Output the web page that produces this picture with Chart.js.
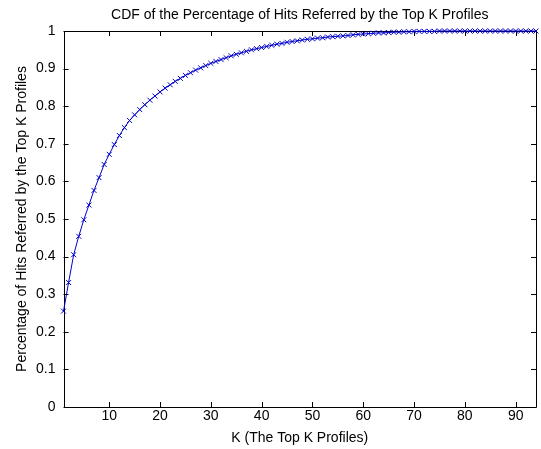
<!DOCTYPE html>
<html>
<head>
<meta charset="utf-8">
<script src="https://cdn.jsdelivr.net/npm/chart.js@4/dist/chart.umd.min.js"></script>
<style>
  html, body { margin: 0; padding: 0; background: #ffffff; }
  #wrap { width: 541px; height: 449px; }
</style>
</head>
<body>
<div id="wrap"><canvas id="c" width="541" height="449"></canvas></div>
<script>
// K = number of top profiles considered
const topK = [
  1, 2, 3, 4, 5, 6, 7, 8, 9, 10,
  11, 12, 13, 14, 15, 16, 17, 18, 19, 20,
  21, 22, 23, 24, 25, 26, 27, 28, 29, 30,
  31, 32, 33, 34, 35, 36, 37, 38, 39, 40,
  41, 42, 43, 44, 45, 46, 47, 48, 49, 50,
  51, 52, 53, 54, 55, 56, 57, 58, 59, 60,
  61, 62, 63, 64, 65, 66, 67, 68, 69, 70,
  71, 72, 73, 74, 75, 76, 77, 78, 79, 80,
  81, 82, 83, 84, 85, 86, 87, 88, 89, 90,
  91, 92, 93, 94
];

// Cumulative share of hits referred by the top K profiles
const hitShare = [
  0.255, 0.331, 0.405, 0.454, 0.498, 0.537, 0.576, 0.610, 0.645, 0.672,
  0.698, 0.722, 0.743, 0.762, 0.777, 0.791, 0.804, 0.816, 0.827, 0.838,
  0.848, 0.857, 0.866, 0.874, 0.882, 0.889, 0.896, 0.902, 0.908, 0.914,
  0.919, 0.924, 0.929, 0.934, 0.938, 0.942, 0.946, 0.950, 0.953, 0.956,
  0.959, 0.962, 0.965, 0.967, 0.970, 0.972, 0.974, 0.976, 0.978, 0.979,
  0.981, 0.982, 0.984, 0.985, 0.986, 0.987, 0.988, 0.990, 0.991, 0.992,
  0.993, 0.994, 0.995, 0.995, 0.996, 0.997, 0.997, 0.998, 0.998, 0.999,
  0.999, 0.999, 0.999, 0.999, 1.000, 1.000, 1.000, 1.000, 1.000, 1.000,
  1.000, 1.000, 1.000, 1.000, 1.000, 1.000, 1.000, 1.000, 1.000, 1.000,
  1.000, 1.000, 1.000, 1.000
];

const xTickValues = [10, 20, 30, 40, 50, 60, 70, 80, 90];
const yTickValues = [0, 0.1, 0.2, 0.3, 0.4, 0.5, 0.6, 0.7, 0.8, 0.9, 1];

const chartTitle = 'CDF of the Percentage of Hits Referred by the Top K Profiles';
const xAxisTitle = 'K (The Top K Profiles)';
const yAxisTitle = 'Percentage of Hits Referred by the Top K Profiles';

const FONT_FAMILY = "'Liberation Sans', Arial, Helvetica, sans-serif";
const FONT_SIZE = 14;
const TICK_LEN = 5;
const LINE_COLOR = '#0000cc';

// Boxed axes with inward-pointing ticks on all four sides
const boxAxes = {
  id: 'boxAxes',
  beforeDatasetsDraw(chart) {
    const { ctx, chartArea: a, scales } = chart;
    ctx.save();
    ctx.strokeStyle = '#000000';
    ctx.lineWidth = 1;
    ctx.beginPath();
    ctx.rect(Math.round(a.left) + 0.5, Math.round(a.top) + 0.5,
             Math.round(a.right - a.left) - 1, Math.round(a.bottom - a.top));
    xTickValues.forEach(v => {
      const px = Math.round(scales.x.getPixelForValue(v)) + 0.5;
      ctx.moveTo(px, a.bottom);
      ctx.lineTo(px, a.bottom - TICK_LEN);
      ctx.moveTo(px, a.top);
      ctx.lineTo(px, a.top + TICK_LEN);
    });
    yTickValues.forEach(v => {
      const py = Math.round(scales.y.getPixelForValue(v)) + 0.5;
      ctx.moveTo(a.left, py);
      ctx.lineTo(a.left + TICK_LEN, py);
      ctx.moveTo(a.right, py);
      ctx.lineTo(a.right - TICK_LEN, py);
    });
    ctx.stroke();
    ctx.restore();
  }
};

// Titles centred on the plotting box
const axisTitles = {
  id: 'axisTitles',
  afterDraw(chart) {
    const { ctx, chartArea: a } = chart;
    const cx = (a.left + a.right) / 2;
    const cy = (a.top + a.bottom) / 2;
    ctx.save();
    ctx.fillStyle = '#000000';
    ctx.font = FONT_SIZE + 'px ' + FONT_FAMILY;
    ctx.textAlign = 'center';
    ctx.textBaseline = 'middle';
    ctx.fillText(chartTitle, cx, 15);
    ctx.fillText(xAxisTitle, cx, 438);
    ctx.translate(22, cy);
    ctx.rotate(-Math.PI / 2);
    ctx.fillText(yAxisTitle, 0, 0);
    ctx.restore();
  }
};

new Chart(document.getElementById('c'), {
  type: 'line',
  data: {
    labels: topK,
    datasets: [{
      data: topK.map((k, i) => ({ x: k, y: hitShare[i] })),
      borderColor: LINE_COLOR,
      backgroundColor: LINE_COLOR,
      borderWidth: 1,
      pointStyle: 'crossRot',
      pointRadius: 3.5,
      pointBorderWidth: 1,
      pointBorderColor: LINE_COLOR,
      tension: 0,
      fill: false,
      clip: 6
    }]
  },
  options: {
    responsive: false,
    animation: false,
    devicePixelRatio: 1,
    layout: { padding: { top: 31, right: 1, bottom: 0, left: 0 } },
    plugins: {
      legend: { display: false },
      tooltip: { enabled: false },
      title: { display: false }
    },
    scales: {
      x: {
        type: 'linear',
        min: 1,
        max: 94,
        afterBuildTicks: s => { s.ticks = xTickValues.map(v => ({ value: v })); },
        afterFit: s => { s.height = 42; },
        grid: { display: false, drawTicks: false },
        border: { display: false },
        ticks: {
          color: '#000000',
          font: { family: FONT_FAMILY, size: FONT_SIZE },
          padding: 1,
          maxRotation: 0,
          callback: v => String(v)
        }
      },
      y: {
        type: 'linear',
        min: 0,
        max: 1,
        afterBuildTicks: s => { s.ticks = yTickValues.map(v => ({ value: v })); },
        afterFit: s => { s.width = 63.5; },
        grid: { display: false, drawTicks: false },
        border: { display: false },
        ticks: {
          color: '#000000',
          font: { family: FONT_FAMILY, size: FONT_SIZE },
          padding: 8,
          callback: v => String(Number(v.toFixed(1)))
        }
      }
    }
  },
  plugins: [boxAxes, axisTitles]
});
</script>
</body>
</html>
